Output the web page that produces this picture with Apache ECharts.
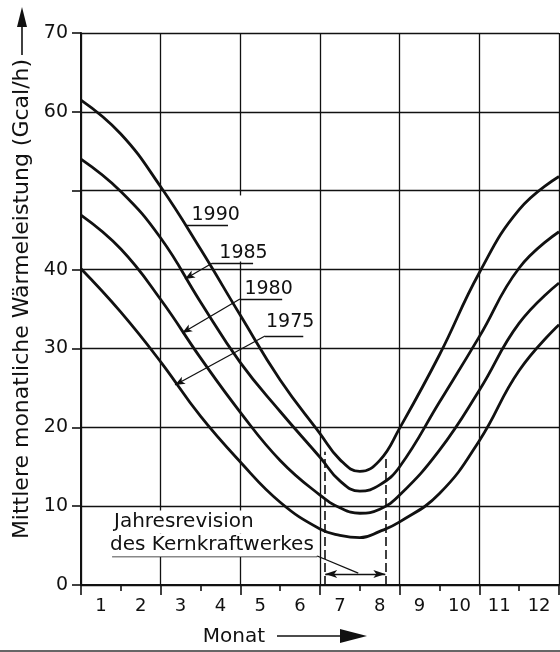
<!DOCTYPE html>
<html>
<head>
<meta charset="utf-8">
<script src="https://cdn.jsdelivr.net/npm/echarts@6/dist/echarts.min.js"></script>
<style>
  html, body { margin: 0; padding: 0; background: #fff; }
  #chart { width: 560px; height: 652px; }
</style>
</head>
<body>
<div id="chart"></div>
<script>
// Monat (0 = Jahresanfang, 12 = Jahresende)
const monthX = [0, 1, 2, 3, 4, 5, 6, 6.5, 7, 7.5, 8, 9, 10, 11, 12];
// Mittlere monatliche Wärmeleistung (Gcal/h)
const w1990 = [61.5, 57.2, 50.5, 42.6, 34.2, 26.0, 19.2, 15.9, 14.4, 15.8, 19.9, 29.2, 39.6, 47.6, 51.8];
const w1985 = [54.0, 49.9, 44.0, 35.9, 28.2, 22.0, 16.2, 13.2, 11.9, 12.7, 15.0, 23.2, 31.5, 40.2, 44.8];
const w1980 = [46.9, 42.6, 36.2, 28.8, 21.9, 15.8, 11.4, 9.8, 9.1, 9.6, 11.4, 17.1, 24.7, 33.2, 38.3];
const w1975 = [40.1, 34.6, 28.3, 21.4, 15.6, 10.5, 7.1, 6.3, 6.0, 6.8, 8.0, 11.6, 18.3, 27.2, 33.0];
const monthLabels = ['1', '2', '3', '4', '5', '6', '7', '8', '9', '10', '11', '12'];
const hiddenTick = 50;

// Jahresrevision (Monatsbereich)
const revisionFrom = 6.13;
const revisionTo = 7.64;

// Beschriftungen (Datenkoordinaten)
const yearLabels = [
  { text: '1990', at: [3.38, 46.9], line: [[2.66, 45.65], [3.69, 45.65]], tip: null },
  { text: '1985', at: [4.08, 42.1], line: [[3.29, 40.8], [4.32, 40.8]], tip: [2.61, 38.8] },
  { text: '1980', at: [4.71, 37.5], line: [[3.99, 36.27], [5.05, 36.27]], tip: [2.54, 31.96] },
  { text: '1975', at: [5.25, 33.35], line: [[4.62, 31.57], [5.58, 31.57]], tip: [2.36, 25.36] }
];

const ink = '#111';
const font = 'DejaVu Sans';

const chart = echarts.init(document.getElementById('chart'));

function curve(name, vals) {
  return {
    name: name,
    type: 'line',
    smooth: 0.45,
    symbol: 'none',
    z: 3,
    silent: true,
    lineStyle: { color: ink, width: 2.8 },
    data: monthX.map((m, i) => [m, vals[i]])
  };
}

// Linien der Beschriftung
let marks = [];
yearLabels.forEach(l => {
  marks.push([{ coord: l.line[0], symbol: 'none' }, { coord: l.line[1], symbol: 'none' }]);
  if (l.tip) {
    marks.push([{ coord: l.line[0], symbol: 'none' }, { coord: l.tip, symbol: 'arrow', symbolSize: [6, 10] }]);
  }
});
// Gitterlinie hinter den Jahreszahlen ausblenden
marks.push([
  { coord: [4, 49.4], symbol: 'none', lineStyle: { color: '#fff', width: 4, type: 'solid' } },
  { coord: [4, 41.3], symbol: 'none' }
]);
// gestrichelte Grenzen der Revision
marks.push([
  { coord: [revisionFrom, 0], symbol: 'none', lineStyle: { type: [9, 4], width: 1.6, color: ink } },
  { coord: [revisionFrom, 16.9], symbol: 'none' }
]);
marks.push([
  { coord: [revisionTo, 0], symbol: 'none', lineStyle: { type: [9, 4], width: 1.6, color: ink } },
  { coord: [revisionTo, 16.5], symbol: 'none' }
]);
// Doppelpfeil
marks.push([
  { coord: [revisionFrom, 1.4], symbol: 'arrow', symbolSize: [6, 12] },
  { coord: [revisionTo, 1.4], symbol: 'arrow', symbolSize: [6, 12] }
]);
// Unterstrich und Hinweislinie
marks.push([{ coord: [0.78, 3.68], symbol: 'none' }, { coord: [5.93, 3.68], symbol: 'none' }]);
marks.push([{ coord: [5.93, 3.68], symbol: 'none' }, { coord: [6.96, 1.5], symbol: 'none' }]);

let texts = yearLabels.map(l => ({
  coord: l.at,
  label: { formatter: l.text }
}));
texts.push({
  coord: [0.74, 7.99],
  label: { formatter: 'Jahresrevision', position: 'right', distance: 0, fontSize: 20, lineHeight: 23, padding: [0, 3, 0, 3] }
});
texts.push({
  coord: [0.64, 5.07],
  label: { formatter: 'des Kernkraftwerkes', position: 'right', distance: 0, fontSize: 20, lineHeight: 23, padding: [0, 3, 0, 3] }
});

const option = {
  backgroundColor: '#fff',
  animation: false,
  grid: { left: 81, right: 1, top: 33, bottom: 67 },
  xAxis: [
    {
      type: 'value',
      min: 0,
      max: 12,
      interval: 2,
      axisLine: { show: true, onZero: false, lineStyle: { color: ink, width: 2 } },
      axisTick: { show: true, length: 10, lineStyle: { color: ink, width: 1.6 } },
      minorTick: { show: true, splitNumber: 2, length: 6, lineStyle: { color: ink, width: 1.6 } },
      axisLabel: { show: false },
      splitLine: { show: true, lineStyle: { color: ink, width: 1.3 } }
    },
    {
      type: 'category',
      data: monthLabels,
      position: 'bottom',
      offset: 0,
      boundaryGap: true,
      axisLine: { show: false },
      axisTick: { show: false },
      splitLine: { show: false },
      axisLabel: { color: ink, fontSize: 18, fontFamily: font, margin: 12 }
    }
  ],
  yAxis: {
    type: 'value',
    min: 0,
    max: 70,
    interval: 10,
    axisLine: { show: true, lineStyle: { color: ink, width: 2 } },
    axisTick: { show: true, length: 9, lineStyle: { color: ink, width: 1.6 } },
    axisLabel: {
      color: ink, fontSize: 19, fontFamily: font, margin: 13,
      formatter: v => (v === hiddenTick ? '' : v)
    },
    splitLine: { show: true, lineStyle: { color: ink, width: 1.3 } }
  },
  series: [
    curve('1990', w1990),
    curve('1985', w1985),
    curve('1980', w1980),
    curve('1975', w1975),
    {
      name: 'annotations',
      type: 'line',
      data: [],
      z: 2,
      silent: true,
      markLine: {
        silent: true,
        animation: false,
        label: { show: false },
        lineStyle: { color: ink, width: 1.3, type: 'solid' },
        data: marks
      },
      markPoint: {
        silent: true,
        animation: false,
        symbol: 'rect',
        symbolSize: 1,
        itemStyle: { color: 'rgba(0,0,0,0)' },
        label: {
          show: true,
          position: 'inside',
          color: ink,
          fontSize: 19,
          fontFamily: font,
          lineHeight: 17,
          backgroundColor: '#fff',
          padding: [0, 1, 0, 1]
        },
        data: texts
      }
    }
  ],
  graphic: [
    {
      type: 'text',
      x: 22,
      y: 299,
      rotation: Math.PI / 2,
      style: {
        text: 'Mittlere monatliche Wärmeleistung (Gcal/h)',
        font: '22px "DejaVu Sans"',
        fill: ink,
        textAlign: 'center',
        textVerticalAlign: 'middle'
      }
    },
    { type: 'line', shape: { x1: 22, y1: 55, x2: 22, y2: 24 }, style: { stroke: ink, lineWidth: 1.6 } },
    { type: 'polygon', shape: { points: [[22, 7], [17, 27], [27, 27]] }, style: { fill: ink } },
    {
      type: 'text',
      x: 234,
      y: 637,
      style: {
        text: 'Monat',
        font: '20px "DejaVu Sans"',
        fill: ink,
        textAlign: 'center',
        textVerticalAlign: 'middle'
      }
    },
    { type: 'line', shape: { x1: 277, y1: 636, x2: 345, y2: 636 }, style: { stroke: ink, lineWidth: 1.6 } },
    { type: 'polygon', shape: { points: [[367, 636], [340, 629], [340, 643]] }, style: { fill: ink } },
    { type: 'line', shape: { x1: 0, y1: 651, x2: 560, y2: 651 }, style: { stroke: '#666', lineWidth: 2 } }
  ]
};

chart.setOption(option);
</script>
</body>
</html>
